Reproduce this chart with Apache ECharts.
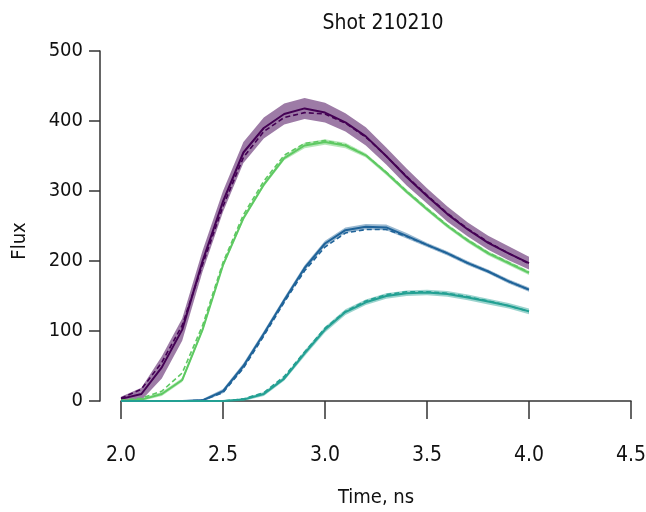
<!DOCTYPE html>
<html>
<head>
<meta charset="utf-8">
<script src="https://cdn.jsdelivr.net/npm/echarts@6/dist/echarts.min.js"></script>
<style>html,body{margin:0;padding:0;background:#fff}#c{width:646px;height:512px}</style>
</head>
<body>
<div id="c"></div>
<script>
var times = [2.0,2.1,2.2,2.3,2.4,2.5,2.6,2.7,2.8,2.9,3.0,3.1,3.2,3.3,3.4,3.5,3.6,3.7,3.8,3.9,4.0];

var purpleMeas = [3,10,48,102,200,285,355,390,410,418,412,398,378,350,320,293,267,245,226,211,197];
var purpleModel = [4,17,55,108,195,278,348,385,405,412,410,397,377,350,321,294,268,246,227,211,196];
var purpleErr = [3,9,16,16,15,15,15,15,15,15,14,13,13,12,12,11,11,10,10,10,9];

var greenMeas = [0,2,10,30,102,194,261,309,347,365,370,365,351,326,299,274,250,229,211,197,183];
var greenModel = [1,4,14,40,108,198,266,314,351,368,372,366,351,327,300,275,251,230,212,198,184];
var greenErr = [1,2,3,3,3,3,3,3,3,4,4,4,3,3,3,3,3,3,3,3,3];

var blueMeas = [0,0,0,0,1,14,50,96,144,190,225,244,249,248,236,223,211,197,185,171,159];
var blueModel = [0,0,0,0,1,12,47,93,141,186,220,240,245,245,235,223,211,197,185,171,159];
var blueErr = [1,1,1,1,2,3,4,4,4,4,4,4,4,4,4,3,3,3,3,3,3];

var tealMeas = [0,0,0,0,0,0,2,10,32,68,102,127,141,150,154,155,153,148,142,136,128];
var tealModel = [0,0,0,0,0,0,3,12,35,70,104,128,143,152,156,156,154,149,143,136,128];
var tealErr = [1,1,1,1,1,1,2,3,3,4,4,4,4,4,4,4,4,4,4,4,4];

var xTicks = [2.0,2.5,3.0,3.5,4.0,4.5];
var yTicks = [0,100,200,300,400,500];

var groups = [
  {name:'purple', meas:purpleMeas, model:purpleModel, err:purpleErr, color:'#440154', band:'rgba(68,1,84,0.52)'},
  {name:'green', meas:greenMeas, model:greenModel, err:greenErr, color:'#5ec962', band:'rgba(94,201,98,0.45)'},
  {name:'blue', meas:blueMeas, model:blueModel, err:blueErr, color:'#1f6399', band:'rgba(31,99,153,0.45)'},
  {name:'teal', meas:tealMeas, model:tealModel, err:tealErr, color:'#23a093', band:'rgba(35,160,147,0.45)'}
];

var FONT = "'Liberation Sans Narrow','DejaVu Sans Condensed','Liberation Sans',sans-serif";

function pairs(vals){ return times.map(function(t,i){ return [t, vals[i]]; }); }

var series = [];
groups.forEach(function(g){
  series.push({type:'custom', silent:true, animation:false, z:1,
    data:[[times[0], g.meas[0]]],
    renderItem:function(params, api){
      var pts = [];
      for (var i = 0; i < times.length; i++) pts.push(api.coord([times[i], g.meas[i] + g.err[i]]));
      for (var j = times.length - 1; j >= 0; j--) pts.push(api.coord([times[j], g.meas[j] - g.err[j]]));
      return {type:'polygon', shape:{points:pts}, style:{fill:g.band}};
    }});
  series.push({type:'line', data:pairs(g.model), symbol:'none', animation:false, z:3,
    lineStyle:{color:g.color, width:1.6, type:[5,3]}});
  series.push({type:'line', data:pairs(g.meas), symbol:'none', animation:false, z:3,
    lineStyle:{color:g.color, width:2}});
});

var chart = echarts.init(document.getElementById('c'), null, {renderer:'canvas'});
chart.setOption({
  animation:false,
  backgroundColor:'#fff',
  title:{text:'Shot 210210', left:378, top:8, textAlign:'center',
    textStyle:{fontFamily:FONT, fontSize:21, fontWeight:'normal', color:'#111'}},
  grid:{left:121, right:15, top:51, bottom:111, containLabel:false, outerBoundsMode:'none'},
  xAxis:{type:'value', min:xTicks[0], max:xTicks[xTicks.length-1], interval:0.5, offset:13,
    name:'Time, ns', nameLocation:'middle', nameGap:74,
    nameTextStyle:{fontFamily:FONT, fontSize:20, color:'#111'},
    axisLine:{show:true, lineStyle:{color:'#333', width:1.5}},
    axisTick:{show:true, inside:false, length:18, lineStyle:{color:'#333', width:1.5}},
    axisLabel:{margin:31, fontFamily:FONT, fontSize:21, color:'#111', formatter:function(v){return v.toFixed(1);}},
    splitLine:{show:false}},
  yAxis:{type:'value', min:yTicks[0], max:yTicks[yTicks.length-1], interval:100, offset:21,
    name:'Flux', nameLocation:'middle', nameGap:70, nameRotate:90,
    nameTextStyle:{fontFamily:FONT, fontSize:20, color:'#111', padding:[0,30,0,0]},
    axisLine:{show:true, lineStyle:{color:'#333', width:1.5}},
    axisTick:{show:true, inside:false, length:11, lineStyle:{color:'#333', width:1.5}},
    axisLabel:{margin:17, fontFamily:FONT, fontSize:20, color:'#111'},
    splitLine:{show:false}},
  series:series
});
</script>
</body>
</html>
